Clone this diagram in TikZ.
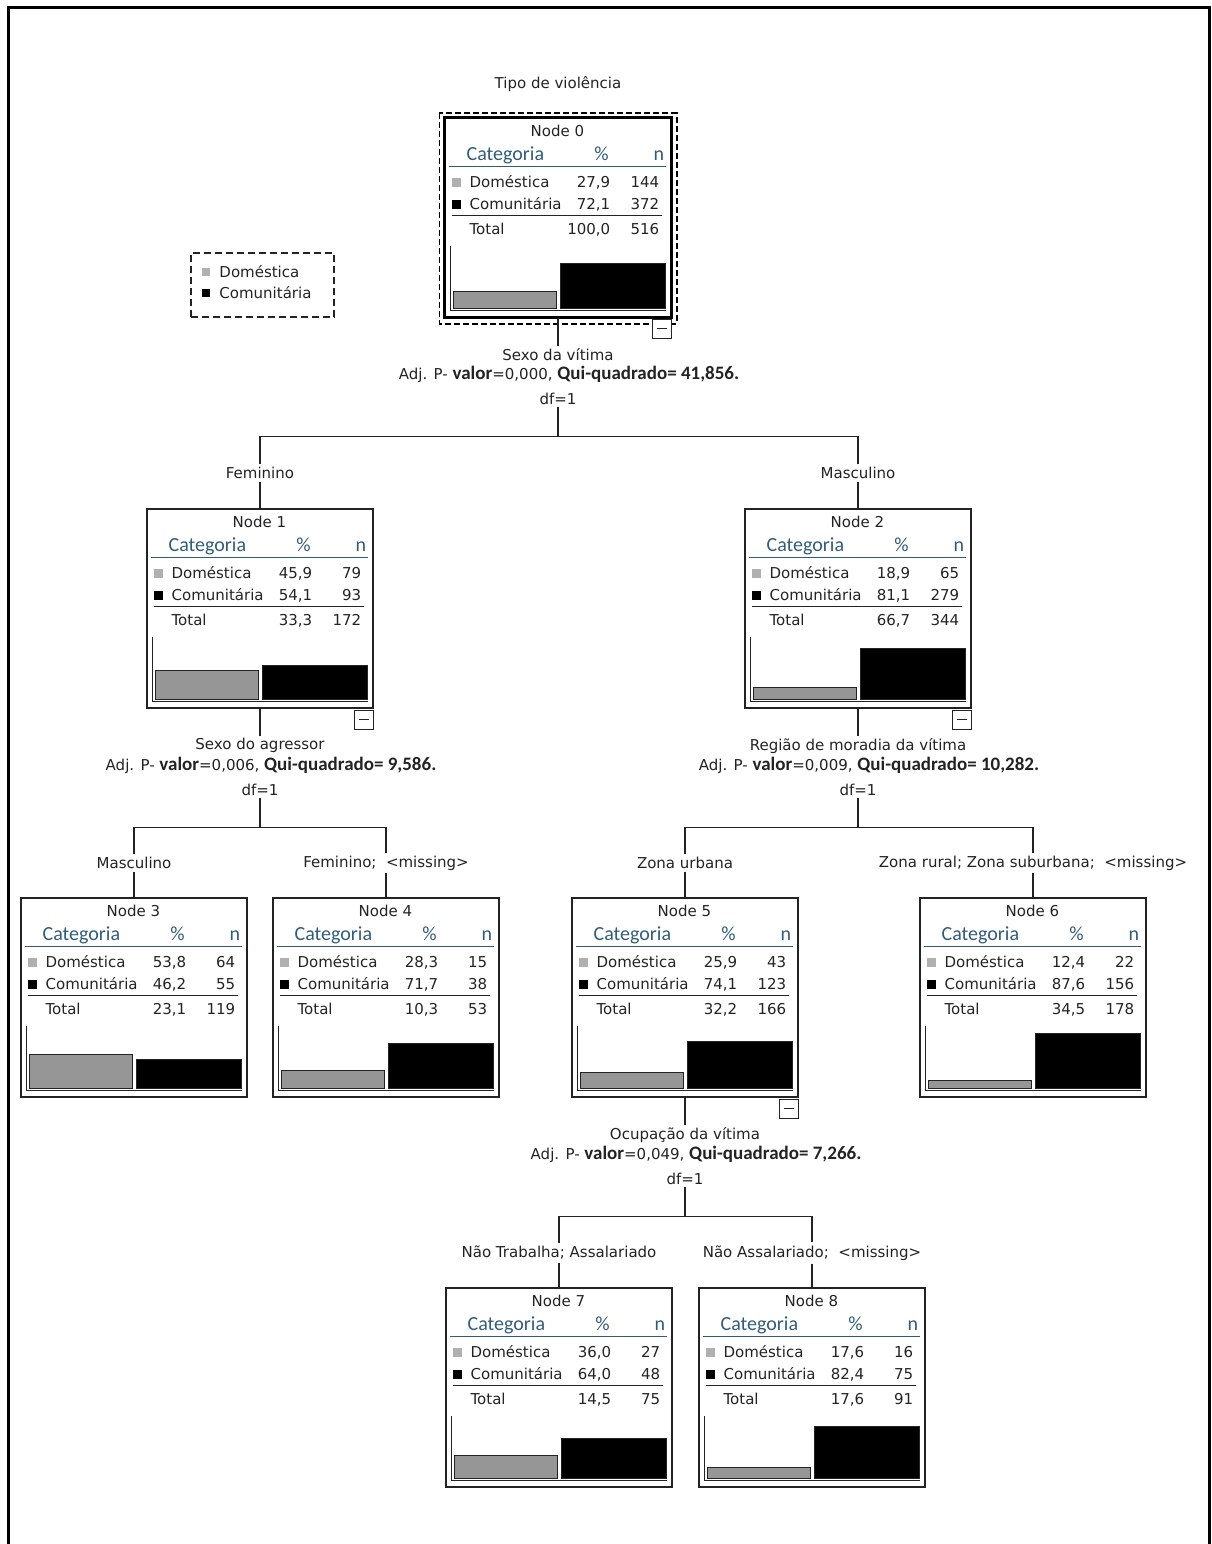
\documentclass[tikz,border=0pt]{standalone}
\usepackage{fontspec}
\setmainfont{DejaVu Sans}
\newfontfamily\calib{Carlito}
\usetikzlibrary{calc}

\definecolor{catblue}{RGB}{50,92,122}
\definecolor{bargray}{RGB}{150,150,150}
\definecolor{inkgray}{RGB}{35,35,35}

\newcommand{\bfcal}[1]{{\calib\bfseries\fontsize{19}{21}\selectfont #1}}

\begin{document}
\begin{tikzpicture}[x=1pt,y=-1pt,
  txt/.style={font=\fontsize{15}{17}\selectfont,text=inkgray,inner sep=1pt},
  cattxt/.style={font=\calib\fontsize{20}{22}\selectfont,text=catblue,inner sep=0pt},
  treebox/.style={draw=inkgray,line width=1.2pt,minimum width=226,minimum height=199,inner sep=0pt},
  stattxt/.style={txt,fill=white,inner sep=2pt},
  lbl/.style={txt,fill=white,inner sep=3pt},
  edge/.style={draw=inkgray,line width=1.3pt},
  minusbox/.style={draw=inkgray,fill=white,line width=1pt,minimum size=19,inner sep=0pt},
  gsq/.style={fill=bargray!75},
  bsq/.style={fill=black},
  bar/.style={draw=inkgray,line width=1pt}]
\useasboundingbox (0,0) rectangle (1211,1544);

% Frame
\draw[line width=3pt] (8,1544) -- (8,8) -- (1209,8) -- (1209,1544);

% Title
\node[txt] (title) at (558,84) {Tipo de violência};

% Tree nodes
\foreach \k/\cx/\cy/\pd/\nd/\pc/\nc/\pt/\nt in {
  0/558/217.5/{27,9}/144/{72,1}/372/{100,0}/516,
  1/260/608.5/{45,9}/79/{54,1}/93/{33,3}/172,
  2/858/608.5/{18,9}/65/{81,1}/279/{66,7}/344,
  3/134/997.5/{53,8}/64/{46,2}/55/{23,1}/119,
  4/386/997.5/{28,3}/15/{71,7}/38/{10,3}/53,
  5/685/997.5/{25,9}/43/{74,1}/123/{32,2}/166,
  6/1033/997.5/{12,4}/22/{87,6}/156/{34,5}/178,
  7/559/1387.5/{36,0}/27/{64,0}/48/{14,5}/75,
  8/812/1387.5/{17,6}/16/{82,4}/75/{17,6}/91}{
  \node[treebox] (n\k) at (\cx,\cy) {};
  \node[txt,anchor=base] at ($(n\k.north west)+(113,19)$) {Node \k};
  % header
  \node[cattxt,anchor=base west] at ($(n\k.north west)+(22,43)$) {Categoria};
  \node[cattxt,anchor=base] at ($(n\k.north west)+(157,43)$) {\%};
  \node[cattxt,anchor=base east] at ($(n\k.north west)+(220,43)$) {n};
  \draw[catblue,line width=1.5pt] ($(n\k.north west)+(5,49)$) -- ($(n\k.north west)+(222,49)$);
  % rows
  \fill[gsq] ($(n\k.north west)+(8,61)$) rectangle +(9,9);
  \node[txt,anchor=base west] at ($(n\k.north west)+(24,70)$) {Doméstica};
  \node[txt,anchor=base east] at ($(n\k.north west)+(167,70)$) {\pd};
  \node[txt,anchor=base east] at ($(n\k.north west)+(216,70)$) {\nd};
  \fill[bsq] ($(n\k.north west)+(8,83)$) rectangle +(9,9);
  \node[txt,anchor=base west] at ($(n\k.north west)+(24,92)$) {Comunitária};
  \node[txt,anchor=base east] at ($(n\k.north west)+(167,92)$) {\pc};
  \node[txt,anchor=base east] at ($(n\k.north west)+(216,92)$) {\nc};
  \draw[inkgray,line width=1.5pt] ($(n\k.north west)+(8,98)$) -- ($(n\k.north west)+(218,98)$);
  \node[txt,anchor=base west] at ($(n\k.north west)+(24,117)$) {Total};
  \node[txt,anchor=base east] at ($(n\k.north west)+(167,117)$) {\pt};
  \node[txt,anchor=base east] at ($(n\k.north west)+(216,117)$) {\nt};
  % bar chart
  \pgfmathsetmacro\hg{63/\nt*\nd}
  \pgfmathsetmacro\hb{63/\nt*\nc}
  \draw[inkgray,line width=1.2pt] ($(n\k.north west)+(6,129)$) -- ($(n\k.north west)+(6,193)$) -- ($(n\k.north west)+(222,193)$);
  \draw[bar,fill=bargray] ($(n\k.south west)+(9,-9)$) rectangle ($(n\k.south west)+(112,-9-\hg)$);
  \draw[bar,fill=black] ($(n\k.south west)+(116,-9)$) rectangle ($(n\k.south west)+(221,-9-\hb)$);
}

% Selected root
\draw[line width=3pt] (n0.north west) rectangle (n0.south east);
\draw[line width=1.8pt,dash pattern=on 6pt off 3pt] ($(n0.north west)+(-5,-4)$) rectangle ($(n0.south east)+(5,6)$);

% Legend
\node[draw=inkgray,line width=1.5pt,dash pattern=on 7pt off 4pt,minimum width=143,minimum height=64] (legend) at (262.5,285) {};
\fill[gsq] ($(legend.north west)+(12,16)$) rectangle +(8,8);
\node[txt,anchor=base west] at ($(legend.north west)+(28,25)$) {Doméstica};
\fill[bsq] ($(legend.north west)+(12,37)$) rectangle +(8,8);
\node[txt,anchor=base west] at ($(legend.north west)+(28,46)$) {Comunitária};

% Split statistics
\foreach \k/\var/\pv/\qq in {
  0/{Sexo da vítima}/{0,000}/{41,856},
  1/{Sexo do agressor}/{0,006}/{9,586},
  2/{Região de moradia da vítima}/{0,009}/{10,282},
  5/{Ocupação da vítima}/{0,049}/{7,266}}{
  \coordinate (b\k) at ($(n\k.south)+(0,119)$);
  \node[stattxt] (v\k) at ($(n\k.south)+(0,37)$) {\var};
  \node[stattxt] (p\k) at ($(n\k.south)+(11,57)$) {Adj. P- \bfcal{valor}=\pv, \bfcal{Qui-quadrado= \qq.}};
  \node[stattxt] (d\k) at ($(n\k.south)+(0,81)$) {df=1};
  \draw[edge] (n\k.south) -- (v\k.north);
  \draw[edge] (d\k.south) -- (b\k);
  \node[minusbox] (m\k) at ($(n\k.south east)+(-10,11)$) {};
  \draw[inkgray,line width=1pt] (m\k.center) +(-5,0) -- +(5,0);
}

% Branch labels
\node[lbl] (l1) at (260,473) {Feminino};
\node[lbl] (l2) at (858,473) {Masculino};
\node[lbl] (l3) at (134,863) {Masculino};
\node[lbl] (l4) at (386,863) {Feminino;~~<missing>};
\node[lbl] (l5) at (685,863) {Zona urbana};
\node[lbl] (l6) at (1033,863) {Zona rural; Zona suburbana;~~<missing>};
\node[lbl] (l7) at (559,1253) {Não Trabalha; Assalariado};
\node[lbl] (l8) at (812,1253) {Não Assalariado;~~<missing>};

% Connections
\draw[edge] (l1.north) |- (b0) -| (l2.north);
\draw[edge] (l3.north) |- (b1) -| (l4.north);
\draw[edge] (l5.north) |- (b2) -| (l6.north);
\draw[edge] (l7.north) |- (b5) -| (l8.north);
\foreach \k in {1,...,8}
  \draw[edge] (l\k.south) -- (n\k.north);
\end{tikzpicture}
\end{document}
